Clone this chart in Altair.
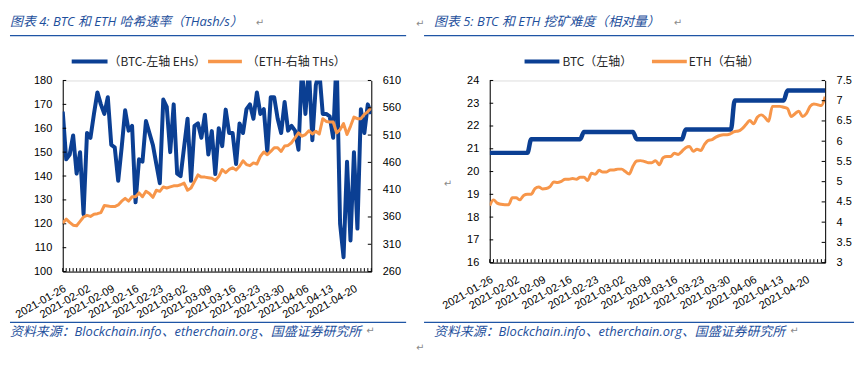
import json
import altair as alt
import pandas as pd

# ---------------- data ----------------
tick_labels = ["2021-01-26", "2021-02-02", "2021-02-09", "2021-02-16", "2021-02-23",
               "2021-03-02", "2021-03-09", "2021-03-16", "2021-03-23", "2021-03-30",
               "2021-04-06", "2021-04-13", "2021-04-20"]
tick_days = [0, 7, 14, 21, 28, 35, 42, 49, 56, 63, 70, 77, 84]
days = list(range(90))  # 2021-01-26 .. 2021-04-25, daily

# BTC hash rate (left axis, EH/s)
btc_hash = [167, 147, 149, 157, 141, 150, 124, 158, 156, 166,
            175, 170, 166, 173, 153, 152, 138, 152, 167.5, 159,
            161, 129, 147, 146, 163, 158, 153, 145, 137, 172,
            169, 150, 170, 141, 140, 152, 164, 138, 161, 162,
            156, 165.7, 149, 158.8, 140.8, 160, 152.5, 167.8, 158, 158,
            145, 162, 158, 168, 170, 164, 175, 166, 168, 150,
            173, 173, 164, 158, 171, 159, 161, 159, 151, 185,
            166, 185, 155, 178, 184, 166, 166, 165, 156, 190,
            120, 106, 146, 113, 150, 118, 168, 158, 170, 166]
# ETH hash rate (right axis, TH/s)
eth_hash = [349, 356, 350, 345, 344, 352, 360, 363, 361, 365,
            366, 368, 381, 380, 379, 379, 382, 389, 394, 389,
            397, 397, 404, 397, 407, 403, 396, 409, 407, 415,
            413, 415, 417, 417, 419, 422, 409, 413, 425, 437,
            433, 433, 432, 431, 427, 434, 447, 441, 447, 450,
            446, 453, 463, 456, 454, 459, 457, 471, 479, 474,
            480, 487, 487, 480, 490, 491, 496, 505, 514, 508,
            511, 518, 512, 517, 512, 540, 535, 534, 534, 514,
            520, 531, 511, 526, 543, 540, 540, 548, 553, 560]
# BTC mining difficulty (left axis)
btc_diff = ([20.82] * 11 + [21.42] * 14 + [21.74] * 14 + [21.42] * 13 +
            [21.85] * 13 + [23.12] * 14 + [23.56] * 11)
# ETH mining difficulty (right axis)
eth_diff = [4.41, 4.55, 4.47, 4.44, 4.43, 4.43, 4.60, 4.60, 4.55, 4.66,
            4.69, 4.69, 4.83, 4.87, 4.82, 4.83, 4.88, 4.99, 4.98, 5.01,
            5.06, 5.06, 5.08, 5.06, 5.11, 5.11, 5.03, 5.21, 5.18, 5.28,
            5.24, 5.24, 5.29, 5.29, 5.31, 5.31, 5.25, 5.19, 5.38, 5.51,
            5.52, 5.50, 5.47, 5.47, 5.52, 5.42, 5.59, 5.62, 5.62, 5.70,
            5.67, 5.75, 5.84, 5.87, 5.75, 5.80, 5.77, 5.92, 6.02, 6.04,
            6.10, 6.14, 6.16, 6.16, 6.19, 6.24, 6.25, 6.31, 6.41, 6.51,
            6.43, 6.59, 6.65, 6.59, 6.49, 6.86, 6.86, 6.86, 6.84, 6.81,
            6.61, 6.68, 6.74, 6.61, 6.68, 6.86, 6.92, 6.90, 6.88, 7.10]

left_ticks_hash = [100, 110, 120, 130, 140, 150, 160, 170, 180]
right_ticks_hash = [260, 310, 360, 410, 460, 510, 560, 610]
left_ticks_diff = [16, 17, 18, 19, 20, 21, 22, 23, 24]
right_ticks_diff = [3, 3.5, 4, 4.5, 5, 5.5, 6, 6.5, 7, 7.5]

title4 = "图表 4:  BTC 和 ETH 哈希速率（THash/s）"
title5 = "图表 5:  BTC 和 ETH 挖矿难度（相对量）"
source = "资料来源：Blockchain.info、etherchain.org、国盛证券研究所"
legend4 = ["（BTC-左轴 EHs）", "（ETH-右轴 THs）"]
legend5 = ["BTC（左轴）", "ETH（右轴）"]

hash_df = pd.DataFrame({"day": days, "btc": btc_hash, "eth": eth_hash})
diff_df = pd.DataFrame({"day": days, "btc": btc_diff, "eth": eth_diff})
one = pd.DataFrame({"k": [0]})

# ---------------- style ----------------
BLUE = "#0B3F93"
ORANGE = "#F7964A"
TXT_BLUE = "#1E4F9C"
RULE_BLUE = "#1F55A5"
CJK = "Noto Sans CJK SC"
WIDE = "Open Sans, Noto Sans CJK SC"
NUM = "Liberation Sans"
label_expr = json.dumps(tick_labels) + "[round(datum.value / 7)]"


def x_enc():
    return alt.X("day:Q", scale=alt.Scale(domain=[0, 89], nice=False, zero=False),
                 axis=alt.Axis(values=tick_days, labelExpr=label_expr, labelAngle=-30,
                               labelAlign="right", labelBaseline="middle", labelPadding=16,
                               labelOffset=2,
                               ticks=False, tickSize=0, grid=False, title=None,
                               labelOverlap=False, labelFlush=False, labelBound=False,
                               domainColor="black", domainWidth=1,
                               labelFont=NUM, labelFontSize=11, labelColor="black"))


def y_enc(field, domain, values, orient, fmt=None):
    ax = dict(values=values, orient=orient, ticks=False, tickSize=0, grid=False,
              title=None, labelPadding=11, domainColor="black", domainWidth=1,
              labelFont=NUM, labelFontSize=11, labelColor="black", labelOverlap=False,
              labelFlush=False)
    if fmt:
        ax["format"] = fmt
    return alt.Y(f"{field}:Q", scale=alt.Scale(domain=domain, nice=False, zero=False),
                 axis=alt.Axis(**ax))


def text(x, y, s, size=12, color="black", italic=False, font=CJK, align="left"):
    kw = dict(align=align, baseline="middle", fontSize=size, font=font, color=color)
    if italic:
        kw["fontStyle"] = "italic"
    return alt.Chart(one).mark_text(**kw).encode(
        x=alt.value(x), y=alt.value(y), text=alt.value(s))


def hrule(x1, x2, y, color, width=1.0):
    return alt.Chart(one).mark_rule(color=color, strokeWidth=width).encode(
        x=alt.value(x1), x2=alt.value(x2), y=alt.value(y))


def ret(x, y):
    return text(x, y, "↵", size=10, color="#8a8a8a", font="DejaVu Sans", align="center")


def panel(df, W, H, ldom, lvals, rdom, rvals, interp, bw, ow, rfmt=None):
    yl = y_enc("btc", ldom, lvals, "left")
    yr = y_enc("eth", rdom, rvals, "right", rfmt)
    lticks = pd.DataFrame({"btc": lvals})
    rticks = pd.DataFrame({"eth": rvals})
    btc_line = alt.Chart(df).mark_line(color=BLUE, strokeWidth=bw, clip=True,
                                       interpolate=interp, strokeJoin="round").encode(
        x=x_enc(), y=yl)
    ltick = alt.Chart(lticks).mark_rule(color="black", strokeWidth=1).encode(
        y=yl, x=alt.value(0), x2=alt.value(3.5))
    xtick = alt.Chart(df).mark_rule(color="black", strokeWidth=1).encode(
        x=x_enc(), y=alt.value(H - 3.5), y2=alt.value(H))
    eth_line = alt.Chart(df).mark_line(color=ORANGE, strokeWidth=ow, clip=True,
                                       interpolate=interp, strokeJoin="round").encode(
        x=x_enc(), y=yr)
    rtick = alt.Chart(rticks).mark_rule(color="black", strokeWidth=1).encode(
        y=yr, x=alt.value(W - 3.5), x2=alt.value(W))
    left_sub = alt.layer(btc_line, ltick, xtick)
    right_sub = alt.layer(eth_line, rtick)
    return left_sub, right_sub


# ---------- left panel (origin abs 61,79) ----------
W1, H1 = 310, 192
l1, r1 = panel(hash_df, W1, H1, [100, 180], left_ticks_hash, [260, 610], right_ticks_hash,
               "linear", 4, 3)
anchor = alt.Chart(one).mark_rule(strokeOpacity=0, strokeWidth=1).encode(
    x=alt.value(-53), x2=alt.value(-52), y=alt.value(-71))
deco1 = [
    anchor,
    text(-53, -59, title4, size=13, color=TXT_BLUE, italic=True, font=WIDE),
    ret(198, -58),
    hrule(-53, 345, -45, RULE_BLUE, 1.2),
    ret(359, -57),
    hrule(9, 45, -19, BLUE, 4),
    text(46, -19, legend4[0], size=12, color="#262626"),
    hrule(146, 180, -19, ORANGE, 3.5),
    text(185, -19, legend4[1], size=12, color="#262626"),
    hrule(-53, 345, 243, RULE_BLUE, 1.2),
    text(-53, 253, source, size=13, color=TXT_BLUE, italic=True, font=WIDE),
    ret(309, 252),
    ret(359, 269),
    ret(387, 104),
]
left_panel = alt.layer(l1, r1, *deco1).resolve_scale(y="independent").properties(
    width=W1, height=H1)

# ---------- right panel (origin abs 490,79) ----------
W2, H2 = 337, 183
l2, r2 = panel(diff_df, W2, H2, [16, 24], left_ticks_diff, [3, 7.5], right_ticks_diff,
               "monotone", 4.5, 3, rfmt="~g")
deco2 = [
    text(-56, -59, title5, size=13, color=TXT_BLUE, italic=True, font=WIDE),
    ret(189, -58),
    hrule(-66, 366, -45, RULE_BLUE, 1.2),
    hrule(35, 70, -19, BLUE, 4),
    text(73, -19, legend5[0], size=12, color="#262626"),
    hrule(163, 198, -19, ORANGE, 3.5),
    text(200, -19, legend5[1], size=12, color="#262626"),
    hrule(-66, 366, 243, RULE_BLUE, 1.2),
    text(-56, 253, source, size=13, color=TXT_BLUE, italic=True, font=WIDE),
    ret(306, 252),
]
right_panel = alt.layer(l2, r2, *deco2).resolve_scale(y="independent").properties(
    width=W2, height=H2)

chart = alt.hconcat(left_panel, right_panel, spacing=119, bounds="flush").properties(
    padding=0).configure_view(strokeWidth=0).configure(background="white")

chart.save("out.html", embed_options={"renderer": "svg", "actions": False})
